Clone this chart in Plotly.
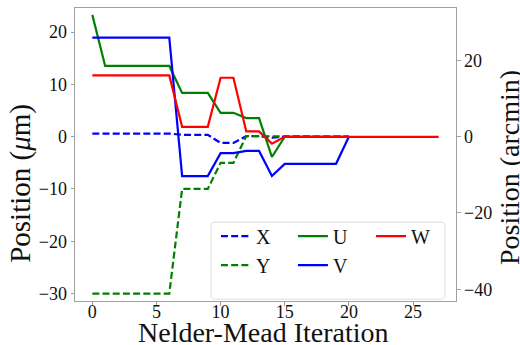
import plotly.graph_objects as go

# ---- data ----
iter_xy = [0, 1, 2, 3, 4, 5, 6, 7, 8, 9, 10, 11, 12, 13, 14, 15, 16, 17, 18, 19, 20]
iter_w = [0, 1, 2, 3, 4, 5, 6, 7, 8, 9, 10, 11, 12, 13, 14, 15, 16, 17, 18, 19, 20,
          21, 22, 23, 24, 25, 26, 27]

X_um = [0.6, 0.6, 0.6, 0.6, 0.6, 0.6, 0.6, 0.35, 0.35, 0.35, -1.2, -1.2, 0.1, 0.1,
        -0.2, 0.0, 0.0, 0.0, 0.0, 0.0, 0.0]
Y_um = [-30, -30, -30, -30, -30, -30, -30, -10, -10, -10, -5, -5, 0.1, 0.1,
        0.0, 0.0, 0.0, 0.0, 0.0, 0.0, 0.0]
U_arcmin = [32.0, 18.6, 18.6, 18.6, 18.6, 18.6, 18.6, 11.5, 11.5, 11.5, 6.3, 6.3,
            4.9, 4.9, -5.3, 0.0, 0.0, 0.0, 0.0, 0.0, 0.0]
V_arcmin = [26.0, 26.0, 26.0, 26.0, 26.0, 26.0, 26.0, -10.3, -10.3, -10.3, -4.3, -4.3,
            -3.7, -3.7, -10.3, -7.1, -7.1, -7.1, -7.1, -7.1, 0.0]
W_arcmin = [16.1, 16.1, 16.1, 16.1, 16.1, 16.1, 16.1, 2.6, 2.6, 2.6, 15.5, 15.5,
            1.4, 1.4, -1.8, 0.0, 0.0, 0.0, 0.0, 0.0, 0.0, 0.0, 0.0, 0.0, 0.0, 0.0,
            0.0, 0.0]

left_ticks = [-30, -20, -10, 0, 10, 20]
right_ticks = [-40, -20, 0, 20]
x_ticks = [0, 5, 10, 15, 20, 25]

x_title = "Nelder-Mead Iteration"
y_title = "Position (<i>μ</i>m)"
y2_title = "Position (arcmin)"

FONT = "Liberation Serif"
TXT = "#111111"
BLUE, GREEN, RED = "#0000ff", "#008000", "#ff0000"
LW = 2.2
DASH = "7px,3.2px"
FRAME = "#a0a0a0"

fig = go.Figure()
fig.add_trace(go.Scatter(x=iter_xy, y=X_um, name="X", mode="lines",
                         line=dict(color=BLUE, width=LW, dash=DASH),
                         yaxis="y", legend="legend"))
fig.add_trace(go.Scatter(x=iter_xy, y=Y_um, name="Y", mode="lines",
                         line=dict(color=GREEN, width=LW, dash=DASH),
                         yaxis="y", legend="legend"))
fig.add_trace(go.Scatter(x=iter_xy, y=U_arcmin, name="U", mode="lines",
                         line=dict(color=GREEN, width=LW),
                         yaxis="y2", legend="legend2"))
fig.add_trace(go.Scatter(x=iter_xy, y=V_arcmin, name="V", mode="lines",
                         line=dict(color=BLUE, width=LW),
                         yaxis="y2", legend="legend2"))
fig.add_trace(go.Scatter(x=iter_w, y=W_arcmin, name="W", mode="lines",
                         line=dict(color=RED, width=LW),
                         yaxis="y2", legend="legend3"))

# rounded legend frame (paper coordinates)
x0, x1, y0, y1 = 0.357, 0.971, 0.006, 0.269
rx, ry = 0.011, 0.014
path = (f"M {x0+rx},{y0} L {x1-rx},{y0} Q {x1},{y0} {x1},{y0+ry} "
        f"L {x1},{y1-ry} Q {x1},{y1} {x1-rx},{y1} L {x0+rx},{y1} "
        f"Q {x0},{y1} {x0},{y1-ry} L {x0},{y0+ry} Q {x0},{y0} {x0+rx},{y0} Z")
fig.add_shape(type="path", path=path, xref="paper", yref="paper",
              fillcolor="rgba(255,255,255,0.85)", line=dict(color="#dcdcdc", width=1),
              layer="above")

leg_common = dict(bgcolor="rgba(0,0,0,0)", borderwidth=0, orientation="v",
                  font=dict(family=FONT, size=20, color=TXT),
                  yanchor="top", xanchor="left", y=0.288, tracegroupgap=0)

axis_common = dict(showgrid=False, zeroline=False, showline=True, linecolor=FRAME,
                   linewidth=1, ticks="outside", ticklen=3.5, tickcolor=FRAME,
                   tickfont=dict(family=FONT, size=18, color=TXT))

fig.update_layout(
    width=520, height=345,
    margin=dict(l=75, r=64, t=8, b=44),
    paper_bgcolor="white", plot_bgcolor="white",
    font=dict(family=FONT, color=TXT),
    showlegend=True,
    legend=dict(x=0.370, **leg_common),
    legend2=dict(x=0.572, **leg_common),
    legend3=dict(x=0.777, **leg_common),
    xaxis=dict(range=[-1.35, 28.35], tickvals=x_ticks, mirror=True,
               ticklabelstandoff=-9, **axis_common),
    yaxis=dict(range=[-31.42, 24.6], tickvals=left_ticks, **axis_common),
    yaxis2=dict(range=[-43.1, 33.8], tickvals=right_ticks, overlaying="y", side="right",
                **axis_common),
)

fig.add_annotation(text=x_title, xref="paper", yref="paper", x=0.4955, y=-0.108,
                   xanchor="center", yanchor="middle", showarrow=False,
                   font=dict(family=FONT, size=28, color=TXT))
fig.add_annotation(text=y_title, xref="paper", yref="paper", x=-0.142, y=0.403,
                   xanchor="center", yanchor="middle", textangle=-90, showarrow=False,
                   font=dict(family=FONT, size=29, color=TXT))
fig.add_annotation(text=y2_title, xref="paper", yref="paper", x=1.142, y=0.454,
                   xanchor="center", yanchor="middle", textangle=-90, showarrow=False,
                   font=dict(family=FONT, size=28, color=TXT))

fig.write_html("out.html", config={"displayModeBar": False},
               post_script="document.body.style.margin='0';document.body.style.overflow='hidden';")
